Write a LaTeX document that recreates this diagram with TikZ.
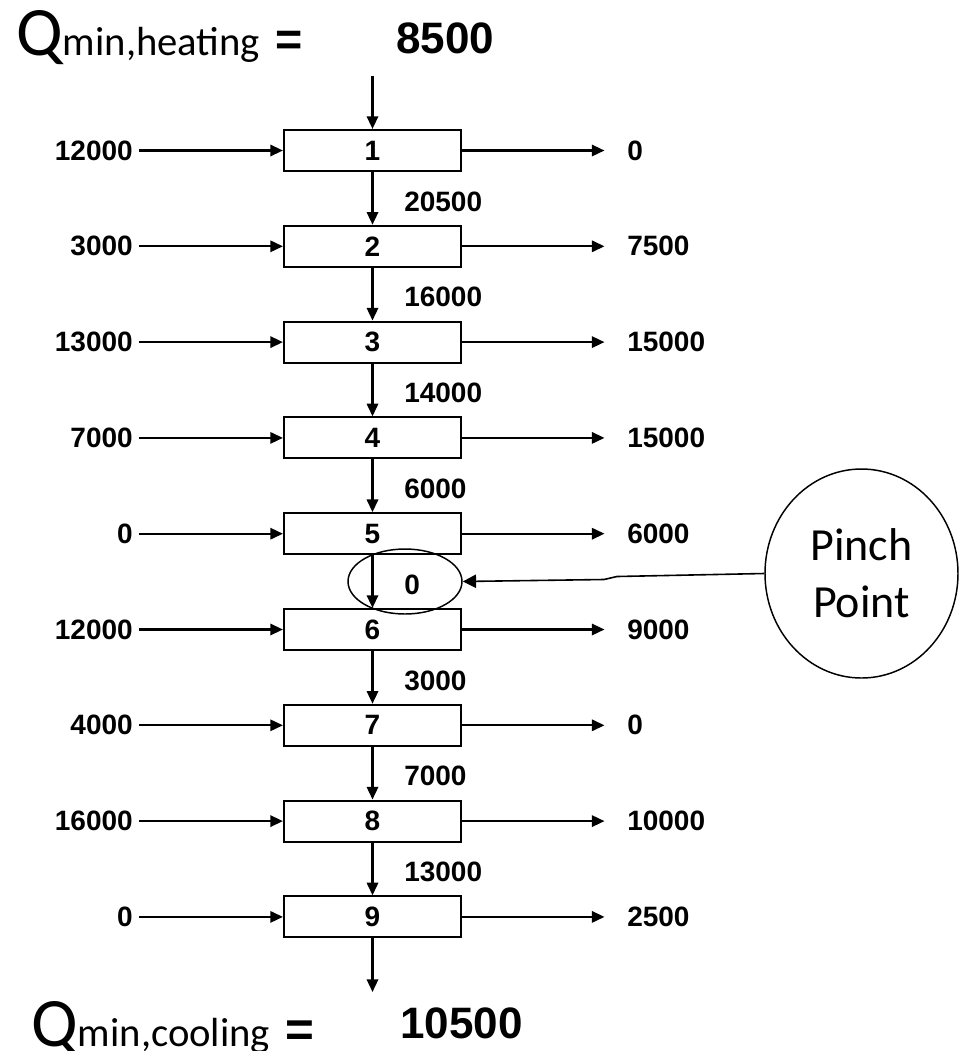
\documentclass[tikz,border=0pt]{standalone}
\usepackage{fontspec}
\setmainfont{Liberation Sans}
\newfontfamily\calibri{Carlito}
\usetikzlibrary{arrows.meta,shapes.geometric}

\tikzset{
  interval/.style={draw, line width=1.6pt, minimum width=132.75pt,
    minimum height=30.75pt, inner sep=0pt, font=\bfseries\fontsize{21}{24}\selectfont},
  heat/.style={inner sep=0pt, font=\bfseries\fontsize{21}{24}\selectfont},
  flow/.style={line width=1.7pt, -{Triangle[length=9.5pt,width=8.5pt]}},
  total/.style={anchor=base west, inner sep=0pt, font=\bfseries\fontsize{33}{38}\selectfont},
}

\begin{document}
\begin{tikzpicture}[x=0.75pt, y=-0.75pt]
\useasboundingbox (0,0) rectangle (961,1051);

\node[anchor=base west, inner sep=0pt] (qhot) at (16,55)
  {\calibri\fontsize{52}{60}\selectfont Q\fontsize{30.5}{36}\selectfont min,heating\fontsize{52}{60}\selectfont{} \normalfont\bfseries\fontsize{35}{40}\selectfont =};
\node[total] (qhotval) at (396,53) {8500};

\foreach \i/\hin/\hout in {1/12000/0, 2/3000/7500, 3/13000/15000, 4/7000/15000,
    5/0/6000, 6/12000/9000, 7/4000/0, 8/16000/10000, 9/0/2500}{
  \pgfmathsetmacro\yy{150.5+95.8*(\i-1)}
  \node[interval] (b\i) at (372.5,\yy) {\i};
  \node[heat, anchor=east] (in\i) at (133,\yy) {\hin};
  \node[heat, anchor=west] (out\i) at (627,\yy) {\hout};
  \coordinate (src\i) at (139,\yy);
  \coordinate (sink\i) at (604.5,\yy);
  \draw[flow] (src\i) -- (b\i);
  \draw[flow] (b\i) -- (sink\i);
}

\foreach \i/\res in {1/20500, 2/16000, 3/14000, 4/6000, 5/0, 6/3000, 7/7000, 8/13000}{
  \pgfmathtruncatemacro\j{\i+1}
  \pgfmathsetmacro\yy{105.6+95.8*\i}
  \draw[flow] (b\i) -- (b\j);
  \node[heat, anchor=west] (cas\i) at (404,\yy) {\res};
}

\coordinate (hot) at (372.5,76);
\coordinate (cold) at (372.5,992);
\draw[flow] (hot) -- (b1);
\draw[flow] (b9) -- (cold);

\node[anchor=base west, inner sep=0pt] (qcold) at (31,1046)
  {\calibri\fontsize{52}{60}\selectfont Q\fontsize{30.5}{36}\selectfont min,cooling\fontsize{52}{60}\selectfont{} \normalfont\bfseries\fontsize{37}{42}\selectfont =};
\node[total] (qcoldval) at (400,1038) {10500};

% pinch
\node[draw, ellipse, line width=1.1pt, minimum width=85.5pt, minimum height=48.75pt,
  inner sep=0pt] (ring) at (405,581.5) {};
\node[draw, ellipse, line width=1.1pt, minimum width=144.75pt, minimum height=156.75pt,
  inner sep=0pt, align=center, font=\calibri\fontsize{34.5}{42.75}\selectfont]
  (pinch) at (861.5,573.5) {Pinch\\Point};
\draw[line width=1.2pt, -{Triangle[length=10pt,width=10pt]}]
  (pinch.west) -- (617,576.5) -- (604,579.5) -- (ring.east);
\end{tikzpicture}
\end{document}
